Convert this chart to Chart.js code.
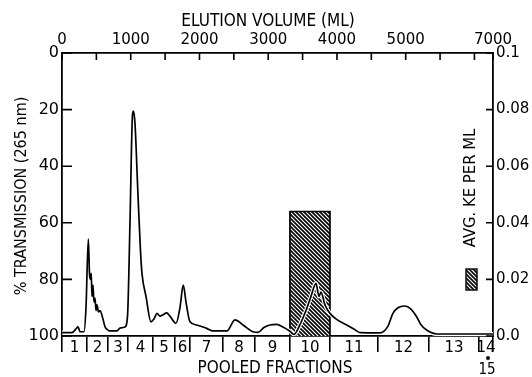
<!DOCTYPE html>
<html>
<head>
<meta charset="utf-8">
<script src="https://cdn.jsdelivr.net/npm/chart.js@4.4.1/dist/chart.umd.min.js"></script>
<style>
  html, body { margin: 0; padding: 0; background: #fff; }
</style>
</head>
<body>
<canvas id="chart" width="532" height="377"></canvas>
<script>
/* ─── Data ─── */
const volumeMl = [
  0, 145, 204, 233, 262, 320, 349, 383, 400, 415, 425, 436,
  451, 465, 480, 495, 509, 531, 553, 596, 625, 669, 698, 800,
  844, 916, 953, 989, 1025, 1040, 1062, 1105, 1142, 1164, 1222, 1294,
  1338, 1382, 1425, 1469, 1523, 1571, 1658, 1716, 1764, 1804, 1862, 1959,
  2105, 2196, 2400, 2516, 2633, 2778, 2851, 2938, 3025, 3123, 3214, 3316,
  3375, 3462, 3549, 3622, 3695, 3738, 3767, 3825, 3898, 4000, 4141, 4262,
  4335, 4625, 4742, 4814, 4887, 4989, 5076, 5159, 5222, 5305, 5450, 6270,
];
const transmission = [
  98.8, 98.8, 97.5, 96.8, 98.5, 98.5, 90, 65.8, 78, 80, 77.9, 86,
  82, 88, 86.6, 91, 89, 91.5, 91, 94, 96.7, 97.9, 98.2, 98.2,
  97.2, 96.8, 93, 60, 22, 20.5, 25, 50, 70, 78, 86, 95,
  94, 92, 93, 92.5, 91.8, 93, 95.5, 90, 82, 88, 95, 96.1,
  97.3, 98.2, 98.2, 94.3, 96.1, 98.5, 98.7, 97, 96.1, 95.9, 96.8, 98.3,
  99.4, 96, 91, 86, 81.4, 86, 84.5, 89, 92, 94.2, 96.1, 97.8,
  98.8, 98.9, 96.5, 92, 90, 89.4, 90.5, 93.2, 96, 97.9, 99.3, 99.3,
];

// pooled fraction boundaries (ml) and their numbers
const fractionBounds = [0, 364, 669, 960, 1324, 1644, 1862, 2342, 2807, 3316, 3898, 4596, 5338, 6065, 6270];
const fractionLabels = ["1", "2", "3", "4", "5", "6", "7", "8", "9", "10", "11", "12", "13", "14"];

// avg. KE per ml, only measured for fraction 10
const keRangeMl = [3316, 3898];
const keAvg = [0.044];

// top axis: right end of the drawn axis is labelled 7000
const axisEndMl = 6270;
const volumeTicks = [0, 500, 1000, 1500, 2000, 2500, 3000, 3500, 4000, 4500, 5000, 5500, 6000, 6270];
const volumeTickLabels = ["0", "", "1000", "", "2000", "", "3000", "", "4000", "", "5000", "", "", "7000"];

const transTicks = [0, 20, 40, 60, 80, 100];
const keTicks = [0, 0.02, 0.04, 0.06, 0.08, 0.1];
const keTickLabels = ["0.0", "0.02", "0.04", "0.06", "0.08", "0.1"];

/* ─── Hatch pattern ─── */
const makeHatch = () => {
  const p = document.createElement("canvas");
  p.width = 4; p.height = 4;
  const g = p.getContext("2d");
  g.fillStyle = "#fff";
  g.fillRect(0, 0, 4, 4);
  g.strokeStyle = "#000";
  g.lineWidth = 1.6;
  g.beginPath();
  g.moveTo(-1, -1); g.lineTo(5, 5);
  g.moveTo(3, -1); g.lineTo(5, 1);
  g.moveTo(-1, 3); g.lineTo(1, 5);
  g.stroke();
  return g.createPattern(p, "repeat");
};
const hatch = makeHatch();

const FONT = "'DejaVu Sans', sans-serif";
const INK = "#000";

const curve = volumeMl.map((v, i) => ({ x: v, y: transmission[i] }));
const keBar = [
  { x: keRangeMl[0], y: 0 }, { x: keRangeMl[0], y: keAvg[0] },
  { x: keRangeMl[1], y: keAvg[0] }, { x: keRangeMl[1], y: 0 },
];

const fractionMids = fractionLabels.map((_, i) => (fractionBounds[i] + fractionBounds[i + 1]) / 2);

// tall, slightly condensed lettering like the stencilled original
const letter = (ctx, text, x, y, size, rot) => {
  ctx.save();
  ctx.translate(x, y);
  if (rot) ctx.rotate(rot);
  ctx.scale(0.9, 1);
  ctx.font = `${size}px ${FONT}`;
  ctx.fillText(text, 0, 0);
  ctx.restore();
};

/* ─── Inner tick marks + free text ─── */
const decor = {
  id: "decor",
  afterDraw(chart) {
    const { ctx, chartArea: a, scales } = chart;
    ctx.save();
    ctx.strokeStyle = INK;
    ctx.lineWidth = 1.6;
    ctx.beginPath();
    transTicks.forEach((t) => {
      const y = scales.y.getPixelForValue(t);
      ctx.moveTo(a.left, y); ctx.lineTo(a.left + 10, y);
    });
    keTicks.forEach((t) => {
      const y = scales.y2.getPixelForValue(t);
      ctx.moveTo(a.right, y); ctx.lineTo(a.right - 7, y);
    });
    volumeTicks.forEach((t) => {
      const x = scales.xTop.getPixelForValue(t);
      ctx.moveTo(x, a.top); ctx.lineTo(x, a.top + 7);
    });
    ctx.stroke();

    ctx.fillStyle = INK;
    ctx.textAlign = "center";
    ctx.textBaseline = "middle";
    letter(ctx, "ELUTION VOLUME (ML)", 268, 22, 17);
    letter(ctx, "POOLED FRACTIONS", 275, 369, 17);
    letter(ctx, "15", 487, 370, 15);
    ctx.beginPath();
    ctx.arc(488, 358, 2, 0, Math.PI * 2);
    ctx.fill();

    letter(ctx, "% TRANSMISSION (265 nm)", 22, 196, 16, -Math.PI / 2);
    letter(ctx, "AVG. KE PER ML", 471, 188, 16.5, -Math.PI / 2);

    ctx.fillStyle = hatch;
    ctx.fillRect(466, 269, 11, 21);
    ctx.lineWidth = 1.4;
    ctx.strokeRect(466, 269, 11, 21);
    ctx.restore();
  },
};

const axisBase = {
  grid: { display: true, drawOnChartArea: false, drawTicks: false },
  border: { display: true, color: INK, width: 1.8 },
};

new Chart(document.getElementById("chart").getContext("2d"), {
  type: "line",
  data: {
    datasets: [
      {
        data: curve, xAxisID: "x", yAxisID: "y",
        borderColor: INK, borderWidth: 1.7, pointRadius: 0,
        cubicInterpolationMode: "monotone", fill: false, order: 1,
      },
      {
        data: curve, xAxisID: "x", yAxisID: "y",
        borderColor: "#fff", borderWidth: 4, pointRadius: 0,
        cubicInterpolationMode: "monotone", fill: false, order: 2,
      },
      {
        data: keBar, xAxisID: "x", yAxisID: "y2",
        borderColor: INK, borderWidth: 1.7, pointRadius: 0, tension: 0,
        backgroundColor: hatch, fill: "origin", order: 3,
      },
    ],
  },
  options: {
    responsive: false,
    devicePixelRatio: 1,
    animation: false,
    layout: { padding: 0 },
    plugins: { legend: { display: false }, tooltip: { enabled: false } },
    scales: {
      x: {
        type: "linear", position: "bottom", min: 0, max: axisEndMl,
        afterBuildTicks: (s) => {
          s.ticks = fractionBounds.map((v) => ({ value: v, bound: true }))
            .concat(fractionMids.map((v, i) => ({ value: v, frac: fractionLabels[i] })));
        },
        afterFit: (s) => { s.height = 41; },
        grid: {
          display: true, drawOnChartArea: false, drawTicks: true, tickLength: 16, lineWidth: 1.6,
          tickColor: (c) => (c.tick && c.tick.bound ? INK : "rgba(0,0,0,0)"),
        },
        border: { display: true, color: INK, width: 1.8 },
        ticks: {
          autoSkip: false, maxRotation: 0, padding: -13, color: INK,
          font: { family: FONT, size: 15 },
          callback: function (v, i) { return this.ticks[i].frac || ""; },
        },
      },
      xTop: {
        ...axisBase,
        type: "linear", position: "top", min: 0, max: axisEndMl,
        afterBuildTicks: (s) => { s.ticks = volumeTicks.map((v) => ({ value: v })); },
        afterFit: (s) => { s.height = 53; },
        ticks: {
          autoSkip: false, maxRotation: 0, padding: 4, color: INK,
          font: { family: FONT, size: 15 },
          callback: (v, i) => volumeTickLabels[i],
        },
      },
      y: {
        ...axisBase,
        type: "linear", position: "left", min: 0, max: 100, reverse: true,
        afterBuildTicks: (s) => { s.ticks = transTicks.map((v) => ({ value: v })); },
        afterFit: (s) => { s.width = 62; },
        ticks: { padding: 3, color: INK, font: { family: FONT, size: 16 } },
      },
      y2: {
        ...axisBase,
        type: "linear", position: "right", min: 0, max: 0.1,
        afterBuildTicks: (s) => { s.ticks = keTicks.map((v) => ({ value: v })); },
        afterFit: (s) => { s.width = 39; },
        ticks: {
          padding: 3, color: INK, font: { family: FONT, size: 15 },
          callback: (v, i) => keTickLabels[i],
        },
      },
    },
  },
  plugins: [decor],
});
</script>
</body>
</html>
